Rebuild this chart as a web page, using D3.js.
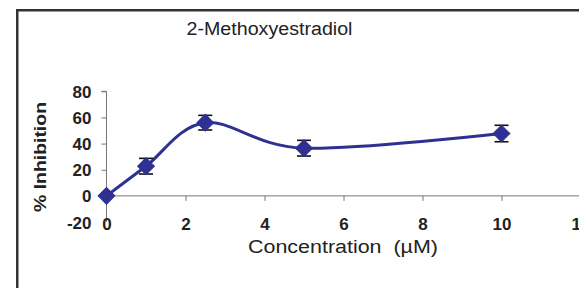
<!DOCTYPE html>
<html><head><meta charset="utf-8">
<script src="https://cdn.jsdelivr.net/npm/d3@7"></script>
<style>html,body{margin:0;padding:0;background:#fff;overflow:hidden}</style>
</head><body>
<svg id="c" width="579" height="288"></svg>
<script>
const concentrations = [0, 1, 2.5, 5, 10];
const inhibition = [0, 22.7, 56, 36.5, 47.7];
const errors = [0, 6, 5.6, 6, 6.3];
const xTicks = [0, 2, 4, 6, 8, 10, 12];
const yTicks = [-20, 0, 20, 40, 60, 80];
const title = "2-Methoxyestradiol";
const xTitle = "Concentration  (\u00b5M)";
const yTitle = "% Inhibition";

const svg = d3.select("#c");
const blue = "#2E3192";
const axisCol = "#777";
const font = "'Liberation Sans', Arial, sans-serif";

// frame
svg.append("rect").attr("x", 17.25).attr("y", 10.25).attr("width", 600).attr("height", 320)
  .attr("fill", "none").attr("stroke", "#333").attr("stroke-width", 2.5);

const x = d3.scaleLinear().domain([0, 12]).range([106.5, 580.5]);
const y = d3.scaleLinear().domain([-20, 80]).range([222, 91.3]);

// y axis
const yAxis = svg.append("g").attr("transform", `translate(${x(0)},0)`)
  .call(d3.axisLeft(y).tickValues(yTicks).tickSize(5).tickPadding(10).tickFormat(d => String(d)));
yAxis.select(".domain").attr("stroke", axisCol).attr("d", `M-5,${y(80)}H0V${y(-20)}`);
yAxis.selectAll(".tick line").attr("stroke", axisCol);
yAxis.selectAll(".tick").filter(d => d === -20).select("line").remove();
yAxis.selectAll("text").attr("font-family", font).attr("font-weight", "bold")
  .attr("font-size", 17).attr("fill", "#222").attr("dy", "0.36em");

// x axis at y=0
const xAxis = svg.append("g").attr("transform", `translate(0,${y(0)})`)
  .call(d3.axisBottom(x).tickValues(xTicks).tickSize(5).tickPadding(17).tickFormat(d => String(d)));
xAxis.select(".domain").attr("stroke", axisCol).attr("d", `M${x(0)},0H579`);
xAxis.selectAll(".tick line").attr("stroke", axisCol);
xAxis.selectAll(".tick").filter(d => d === 0).select("line").remove();
xAxis.selectAll("text").attr("font-family", font).attr("font-weight", "bold")
  .attr("font-size", 17).attr("fill", "#222");

// titles
svg.append("text").attr("x", 269.5).attr("y", 35).attr("text-anchor", "middle")
  .attr("font-family", font).attr("font-size", 18).attr("fill", "#222")
  .attr("textLength", 166).attr("lengthAdjust", "spacingAndGlyphs").text(title);
svg.append("text").attr("x", 343).attr("y", 253).attr("text-anchor", "middle")
  .style("white-space", "pre")
  .attr("font-family", font).attr("font-size", 18).attr("fill", "#222")
  .attr("textLength", 190).attr("lengthAdjust", "spacingAndGlyphs").text(xTitle);
svg.append("text").attr("transform", "translate(46,157) rotate(-90)").attr("text-anchor", "middle")
  .attr("font-family", font).attr("font-size", 17).attr("font-weight", "bold").attr("fill", "#222")
  .attr("textLength", 110).attr("lengthAdjust", "spacingAndGlyphs").text(yTitle);

const data = concentrations.map((c, i) => ({c, v: inhibition[i], e: errors[i]}));

// line
const line = d3.line().x(d => x(d.c)).y(d => y(d.v)).curve(d3.curveCardinal.tension(0));
svg.append("path").datum(data).attr("d", line).attr("fill", "none")
  .attr("stroke", blue).attr("stroke-width", 3);

// error bars
const eb = svg.append("g").attr("stroke", "#111").attr("stroke-width", 1.6);
data.filter(d => d.e > 0).forEach(d => {
  const cx = x(d.c), y1 = y(d.v + d.e), y2 = y(d.v - d.e);
  eb.append("line").attr("x1", cx).attr("x2", cx).attr("y1", y1).attr("y2", y2);
  eb.append("line").attr("x1", cx - 7).attr("x2", cx + 7).attr("y1", y1).attr("y2", y1);
  eb.append("line").attr("x1", cx - 7).attr("x2", cx + 7).attr("y1", y2).attr("y2", y2);
});

// markers
svg.append("g").selectAll("path").data(data).join("path")
  .attr("d", d3.symbol(d3.symbolSquare, 140))
  .attr("transform", d => `translate(${x(d.c)},${y(d.v)}) rotate(45)`)
  .attr("fill", blue).attr("stroke", blue).attr("stroke-width", 1);
</script>
</body></html>
